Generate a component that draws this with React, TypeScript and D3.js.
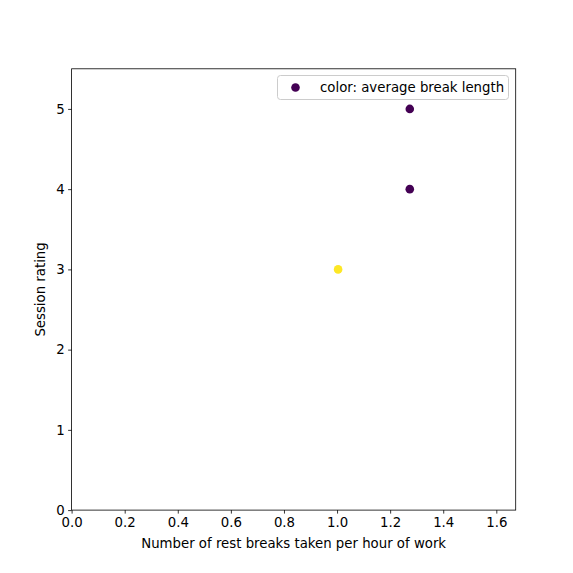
import * as d3 from "d3";
import React, { useEffect, useRef } from "react";

const width = 573;
const height = 573;

// data
const breaksPerHour = [1.274, 1.274, 1.004];
const sessionRating = [5, 4, 3];
const avgBreakLength = [0, 0, 1]; // normalised colour value (viridis)
const xTicks = [0, 0.2, 0.4, 0.6, 0.8, 1.0, 1.2, 1.4, 1.6];
const yTicks = [0, 1, 2, 3, 4, 5];

const fontSize = 13.3;

export default function App() {
  const holderRef = useRef<HTMLDivElement | null>(null);

  useEffect(() => {
    const holder = holderRef.current;
    if (!holder || holder.hasChildNodes()) return;

    const margin = { left: 71.6, right: 515.7, top: 68.8, bottom: 510.1 };

    const x = d3.scaleLinear().domain([0, 1.673]).range([margin.left, margin.right]);
    const y = d3.scaleLinear().domain([0, 5.5]).range([margin.bottom, margin.top]);

    const svg = d3
      .select(holder)
      .append("svg")
      .attr("width", width)
      .attr("height", height)
      .attr("style", "position:absolute;left:0;top:0;font-family:'DejaVu Sans';background:white");

    // axes
    const xAxis = svg
      .append("g")
      .attr("transform", `translate(0,${margin.bottom})`)
      .call(
        d3
          .axisBottom(x)
          .tickValues(xTicks)
          .tickFormat(d3.format(".1f"))
          .tickSizeOuter(0)
          .tickSize(3.5)
          .tickPadding(3.5)
      );
    const yAxis = svg
      .append("g")
      .attr("transform", `translate(${margin.left},0)`)
      .call(
        d3
          .axisLeft(y)
          .tickValues(yTicks)
          .tickFormat(d3.format("d"))
          .tickSizeOuter(0)
          .tickSize(3.5)
          .tickPadding(3.5)
      );
    [xAxis, yAxis].forEach((g) => {
      g.select(".domain").remove();
      g.selectAll("text").attr("font-size", fontSize).attr("font-family", "DejaVu Sans").attr("fill", "black");
      g.selectAll("line").attr("stroke", "black").attr("stroke-width", 0.8);
    });

    // frame
    svg
      .append("rect")
      .attr("x", margin.left)
      .attr("y", margin.top)
      .attr("width", margin.right - margin.left)
      .attr("height", margin.bottom - margin.top)
      .attr("fill", "none")
      .attr("stroke", "black")
      .attr("stroke-width", 0.8);

    // points
    svg
      .append("g")
      .selectAll()
      .data(breaksPerHour)
      .join("circle")
      .attr("cx", (d) => x(d))
      .attr("cy", (d, i) => y(sessionRating[i]))
      .attr("r", 4.3)
      .attr("fill", (d, i) => d3.interpolateViridis(avgBreakLength[i]));

    // axis labels
    svg
      .append("text")
      .attr("x", (margin.left + margin.right) / 2)
      .attr("y", 548)
      .attr("text-anchor", "middle")
      .attr("font-size", fontSize)
      .text("Number of rest breaks taken per hour of work");
    svg
      .append("text")
      .attr("transform", `translate(45,${(margin.top + margin.bottom) / 2}) rotate(-90)`)
      .attr("text-anchor", "middle")
      .attr("font-size", fontSize)
      .text("Session rating");

    // legend
    const legend = svg.append("g");
    legend
      .append("rect")
      .attr("x", 277.5)
      .attr("y", 75.5)
      .attr("width", 231)
      .attr("height", 24)
      .attr("rx", 3)
      .attr("fill", "white")
      .attr("fill-opacity", 0.8)
      .attr("stroke", "#cccccc")
      .attr("stroke-width", 1);
    legend
      .append("circle")
      .attr("cx", 295.5)
      .attr("cy", 87.5)
      .attr("r", 4.3)
      .attr("fill", d3.interpolateViridis(0));
    legend
      .append("text")
      .attr("x", 320)
      .attr("y", 92)
      .attr("font-size", fontSize)
      .text("color: average break length");
  }, []);

  return <div ref={holderRef} />;
}
